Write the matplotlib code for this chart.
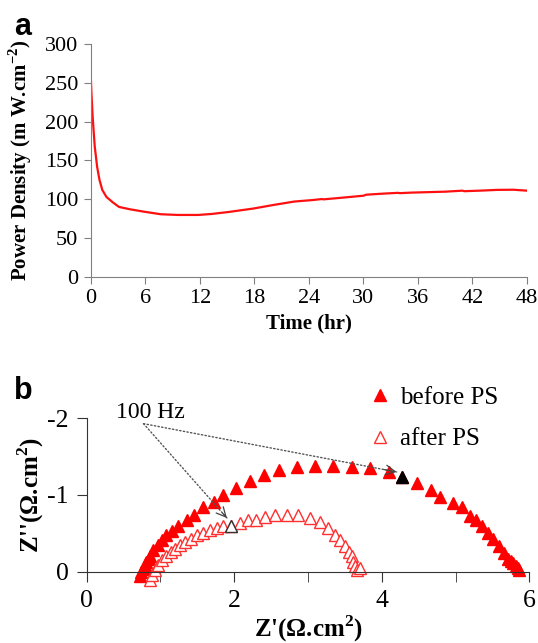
import numpy as np
import matplotlib
matplotlib.use('Agg')
from matplotlib import pyplot as plt

plt.rcParams['font.family'] = ['Liberation Serif', 'DejaVu Serif']
plt.rcParams['mathtext.fontset'] = 'custom'
plt.rcParams['mathtext.rm'] = 'Liberation Serif'
plt.rcParams['mathtext.bf'] = 'Liberation Serif:bold'
plt.rcParams['axes.unicode_minus'] = False

# panel a: power density over time
time_hr = [0, 0.05, 0.19, 0.42, 0.68, 0.94, 1.25, 1.7, 2.4, 3.1, 4.3, 5.8, 7.7, 9.6,
           11.8, 13.3, 15.2, 17.9, 20.1, 22.4, 24.5, 25.4, 25.6, 27.7, 30.0, 30.3,
           32.2, 33.8, 34.0, 35.3, 39.0, 40.9, 41.1, 42.8, 44.7, 46.5, 48.0]
power = [253, 238, 206, 168, 142, 125, 112, 103, 96, 90, 87, 84, 80.6, 79.7,
         79.7, 81, 83.6, 88, 92.6, 97, 99, 100.2, 99.8, 102, 104.5, 105.8,
         107.2, 108.2, 107.8, 108.5, 109.7, 111, 110.3, 111, 112, 112.2, 111]

# panel b: Nyquist plots
before_x = [0.72, 0.74, 0.77, 0.79, 0.81, 0.84, 0.86, 0.90, 0.96, 1.02, 1.08, 1.15,
            1.24, 1.36, 1.46, 1.58, 1.72, 1.85, 2.02, 2.21, 2.40, 2.61, 2.85, 3.09,
            3.34, 3.59, 3.84, 4.09, 4.27, 4.48, 4.67, 4.79, 4.96, 5.08, 5.19, 5.28,
            5.36, 5.44, 5.51, 5.58, 5.65, 5.71, 5.75, 5.78, 5.82, 5.84, 5.86]
before_y = [0.06, 0.01, -0.04, -0.09, -0.13, -0.17, -0.20, -0.28, -0.35, -0.41, -0.48, -0.53,
            -0.60, -0.67, -0.74, -0.84, -0.91, -1.00, -1.09, -1.18, -1.26, -1.33, -1.37, -1.38,
            -1.38, -1.37, -1.35, -1.30, -1.24, -1.15, -1.07, -0.98, -0.90, -0.84, -0.73, -0.67,
            -0.60, -0.51, -0.42, -0.34, -0.25, -0.17, -0.14, -0.11, -0.07, -0.05, -0.02]
after_x = [0.86, 0.89, 0.93, 0.97, 1.02, 1.07, 1.14, 1.20, 1.26, 1.33, 1.41, 1.49,
           1.58, 1.67, 1.76, 1.85, 1.96, 2.08, 2.19, 2.30, 2.42, 2.55, 2.71, 2.87,
           3.03, 3.16, 3.27, 3.36, 3.43, 3.50, 3.55, 3.59, 3.61, 3.64, 3.66, 3.70]
after_y = [0.11, 0.04, -0.02, -0.09, -0.15, -0.20, -0.26, -0.30, -0.35, -0.39, -0.43, -0.48,
           -0.51, -0.54, -0.57, -0.60, -0.59, -0.63, -0.67, -0.68, -0.71, -0.74, -0.74, -0.74,
           -0.70, -0.65, -0.57, -0.48, -0.41, -0.33, -0.26, -0.20, -0.13, -0.07, -0.02, -0.05]
hz_before = 28   # index of the 100 Hz point
hz_after = 16

fig = plt.figure(figsize=(5.38, 6.43), dpi=100)

# ---- panel a
ax1 = fig.add_axes([0.169, 0.5695, 0.8105, 0.3621])
ax1.plot(time_hr, power, color='#ff1010', lw=1.6)
ax1.set_xlim(0, 48)
ax1.set_ylim(0, 300)
ax1.set_xticks(range(0, 49, 6))
ax1.set_yticks(range(0, 301, 50))
for s in ['top', 'right']:
    ax1.spines[s].set_visible(False)
for s in ['left', 'bottom']:
    ax1.spines[s].set_color('#808080')
ax1.tick_params(direction='out', length=5, color='#808080', labelsize=16, pad=4)
ax1.set_xlabel('Time (hr)', fontsize=15, fontweight='bold', labelpad=4)
ax1.set_ylabel(r'Power Density (m W.cm$^{\mathbf{-2}}$)', fontsize=15, fontweight='bold', labelpad=8)
fig.text(0.026, 0.982, 'a', fontsize=22, fontweight='bold', family='Liberation Sans', va='top')

# ---- panel b
ax2 = fig.add_axes([0.1611, 0.1109, 0.8231, 0.2386])
ax2.plot(before_x, before_y, ls='none', marker='^', ms=8.5, mfc='red', mec='red',
         clip_on=False, label='before PS')
ax2.plot(after_x, after_y, ls='none', marker='^', ms=8.5, mfc='white', mec='#ff3030', mew=1,
         clip_on=False, label='after PS')
ax2.plot(before_x[hz_before], before_y[hz_before], ls='none', marker='^', ms=8.5,
         mfc='black', mec='black', clip_on=False)
ax2.plot(after_x[hz_after], after_y[hz_after], ls='none', marker='^', ms=8.5,
         mfc='white', mec='#333333', mew=1, clip_on=False)

# 100 Hz arrows
src = np.array([0.77, -1.93])
for tgt in [(4.20, -1.30), (1.90, -0.70)]:
    tgt = np.array(tgt)
    ax2.annotate('', xy=tgt, xytext=src, annotation_clip=False,
                 arrowprops=dict(arrowstyle='-', ls=':', color='#555555', lw=1, shrinkA=0, shrinkB=0))
    mid = tgt - (tgt - src) * 0.05
    ax2.annotate('', xy=tgt, xytext=mid, annotation_clip=False,
                 arrowprops=dict(arrowstyle='->', color='#444444', lw=0.9, shrinkA=0, shrinkB=0,
                                 mutation_scale=17))
ax2.text(0.86, -2.07, '100 Hz', fontsize=17, ha='center', va='center', clip_on=False)

ax2.set_xlim(0, 6)
ax2.set_ylim(0, -2)
ax2.set_xticks([0, 2, 4, 6])
ax2.set_xticks([1, 3, 5], minor=True)
ax2.set_yticks([0, -1, -2])
ax2.set_yticklabels(['0', '-1', '-2'])
for s in ['top', 'right']:
    ax2.spines[s].set_visible(False)
for s in ['left', 'bottom']:
    ax2.spines[s].set_color('#333333')
ax2.tick_params(which='both', direction='out', length=7, color='#333333', labelsize=18.5, pad=6)
ax2.set_xlabel(r"Z'($\mathbf{\Omega}$.cm$^{\mathbf{2}}$)", fontsize=18, fontweight='bold', labelpad=1)
ax2.set_ylabel(r"Z''($\mathbf{\Omega}$.cm$^{\mathbf{2}}$)", fontsize=18, fontweight='bold', labelpad=1)
ax2.legend(loc='upper left', bbox_to_anchor=(0.665, 0.418), bbox_transform=fig.transFigure,
           frameon=False, fontsize=18, handlelength=0.8, handletextpad=0.4, labelspacing=0.75,
           borderpad=0)
fig.text(0.026, 0.415, 'b', fontsize=22, fontweight='bold', family='Liberation Sans', va='top')

fig.savefig('out.png', dpi=100)
